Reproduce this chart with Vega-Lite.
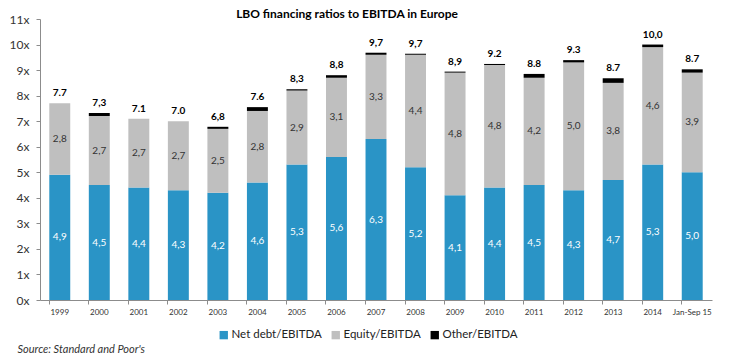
{
  "$schema": "https://vega.github.io/schema/vega-lite/v6.json",
  "width": 672,
  "height": 281,
  "autosize": {"type": "none"},
  "padding": {"left": 40, "top": 19, "right": 18, "bottom": 59},
  "background": "white",
  "config": {
    "view": {"stroke": null},
    "font": "Lato",
    "axisY": {
      "title": null,
      "grid": false,
      "labelFont": "Lato",
      "labelFontSize": 12,
      "labelColor": "#333333",
      "labelPadding": 7,
      "labelOverlap": false,
      "tickSize": 4,
      "domainColor": "#8c8c8c",
      "tickColor": "#8c8c8c"
    }
  },
  "title": {
    "text": "LBO financing ratios to EBITDA in Europe",
    "font": "Lato",
    "fontSize": 12,
    "fontWeight": "bold",
    "color": "#000000",
    "anchor": "middle",
    "frame": "group",
    "dx": -29,
    "dy": 14,
    "baseline": "middle",
    "offset": 1
  },
  "data": {
    "values": [
      {"year": "1999", "Net debt/EBITDA": 4.9, "Equity/EBITDA": 2.8, "Other/EBITDA": 0, "total": "7.7"},
      {"year": "2000", "Net debt/EBITDA": 4.5, "Equity/EBITDA": 2.7, "Other/EBITDA": 0.12, "total": "7,3"},
      {"year": "2001", "Net debt/EBITDA": 4.4, "Equity/EBITDA": 2.7, "Other/EBITDA": 0, "total": "7.1"},
      {"year": "2002", "Net debt/EBITDA": 4.3, "Equity/EBITDA": 2.7, "Other/EBITDA": 0, "total": "7.0"},
      {"year": "2003", "Net debt/EBITDA": 4.2, "Equity/EBITDA": 2.5, "Other/EBITDA": 0.08, "total": "6,8"},
      {"year": "2004", "Net debt/EBITDA": 4.6, "Equity/EBITDA": 2.8, "Other/EBITDA": 0.15, "total": "7.6"},
      {"year": "2005", "Net debt/EBITDA": 5.3, "Equity/EBITDA": 2.9, "Other/EBITDA": 0.05, "total": "8,3"},
      {"year": "2006", "Net debt/EBITDA": 5.6, "Equity/EBITDA": 3.1, "Other/EBITDA": 0.1, "total": "8,8"},
      {"year": "2007", "Net debt/EBITDA": 6.3, "Equity/EBITDA": 3.3, "Other/EBITDA": 0.08, "total": "9,7"},
      {"year": "2008", "Net debt/EBITDA": 5.2, "Equity/EBITDA": 4.4, "Other/EBITDA": 0.04, "total": "9,7"},
      {"year": "2009", "Net debt/EBITDA": 4.1, "Equity/EBITDA": 4.8, "Other/EBITDA": 0.04, "total": "8,9"},
      {"year": "2010", "Net debt/EBITDA": 4.4, "Equity/EBITDA": 4.8, "Other/EBITDA": 0.04, "total": "9.2"},
      {"year": "2011", "Net debt/EBITDA": 4.5, "Equity/EBITDA": 4.2, "Other/EBITDA": 0.15, "total": "8.8"},
      {"year": "2012", "Net debt/EBITDA": 4.3, "Equity/EBITDA": 5.0, "Other/EBITDA": 0.09, "total": "9.3"},
      {"year": "2013", "Net debt/EBITDA": 4.7, "Equity/EBITDA": 3.8, "Other/EBITDA": 0.18, "total": "8.7"},
      {"year": "2014", "Net debt/EBITDA": 5.3, "Equity/EBITDA": 4.6, "Other/EBITDA": 0.1, "total": "10,0"},
      {"year": "Jan-Sep 15", "Net debt/EBITDA": 5.0, "Equity/EBITDA": 3.9, "Other/EBITDA": 0.13, "total": "8.7"}
    ]
  },
  "transform": [
    {"fold": ["Net debt/EBITDA", "Equity/EBITDA", "Other/EBITDA"], "as": ["series", "value"]},
    {"calculate": "indexof(['Net debt/EBITDA','Equity/EBITDA','Other/EBITDA'], datum.series)", "as": "si"},
    {"stack": "value", "groupby": ["year"], "sort": [{"field": "si", "order": "ascending"}], "as": ["y0", "y1"]},
    {"calculate": "(datum.y0 + datum.y1) / 2", "as": "mid"},
    {"calculate": "replace(format(datum.value, '.1f'), '.', ',')", "as": "lab"}
  ],
  "encoding": {
    "x": {
      "field": "year",
      "type": "ordinal",
      "sort": null,
      "scale": {"paddingInner": 0.47, "paddingOuter": 0.235},
      "axis": {
        "title": "Source: Standard and Poor's",
        "titleFont": "Lato",
        "titleFontStyle": "italic",
        "titleFontWeight": "normal",
        "titleFontSize": 11,
        "titleColor": "#333333",
        "titleAnchor": "start",
        "titleAlign": "left",
        "titleBaseline": "middle",
        "titleX": -23,
        "titleY": 49,
        "labelAngle": 0,
        "labelFont": "Lato",
        "labelFontSize": 8,
        "labelColor": "#333333",
        "labelPadding": 4,
        "bandPosition": 0,
        "domainColor": "#8c8c8c",
        "tickColor": "#8c8c8c",
        "tickSize": 4
      }
    }
  },
  "layer": [
    {
      "mark": {"type": "bar"},
      "encoding": {
        "y": {
          "field": "y0",
          "type": "quantitative",
          "scale": {"domain": [0, 11], "nice": false},
          "axis": {
            "values": [0, 1, 2, 3, 4, 5, 6, 7, 8, 9, 10, 11],
            "labelExpr": "datum.value + 'x'"
          }
        },
        "y2": {"field": "y1"},
        "color": {
          "field": "series",
          "type": "nominal",
          "scale": {
            "domain": ["Net debt/EBITDA", "Equity/EBITDA", "Other/EBITDA"],
            "range": ["#2a94c6", "#bfbfbf", "#000000"]
          },
          "legend": {
            "title": null,
            "orient": "none",
            "direction": "horizontal",
            "legendX": 178,
            "legendY": 310,
            "symbolType": "square",
            "symbolSize": 70,
            "symbolStrokeWidth": 0,
            "labelFont": "Lato",
            "labelFontSize": 11.5,
            "labelColor": "#222222",
            "labelOffset": 2,
            "columnPadding": 8
          }
        }
      }
    },
    {
      "transform": [{"filter": "datum.series !== 'Other/EBITDA'"}],
      "mark": {"type": "text", "font": "Lato", "fontSize": 10},
      "encoding": {
        "y": {
          "field": "mid",
          "type": "quantitative",
          "axis": {
            "values": [0, 1, 2, 3, 4, 5, 6, 7, 8, 9, 10, 11],
            "labelExpr": "datum.value + 'x'"
          }
        },
        "text": {"field": "lab"},
        "color": {
          "condition": {"test": "datum.series === 'Net debt/EBITDA'", "value": "#ffffff"},
          "value": "#333333"
        }
      }
    },
    {
      "transform": [{"filter": "datum.series === 'Other/EBITDA'"}],
      "mark": {"type": "text", "font": "Lato", "fontSize": 10, "fontWeight": "bold", "baseline": "bottom", "dy": -5, "color": "#000000"},
      "encoding": {
        "y": {
          "field": "y1",
          "type": "quantitative",
          "axis": {
            "values": [0, 1, 2, 3, 4, 5, 6, 7, 8, 9, 10, 11],
            "labelExpr": "datum.value + 'x'"
          }
        },
        "text": {"field": "total"}
      }
    }
  ]
}
